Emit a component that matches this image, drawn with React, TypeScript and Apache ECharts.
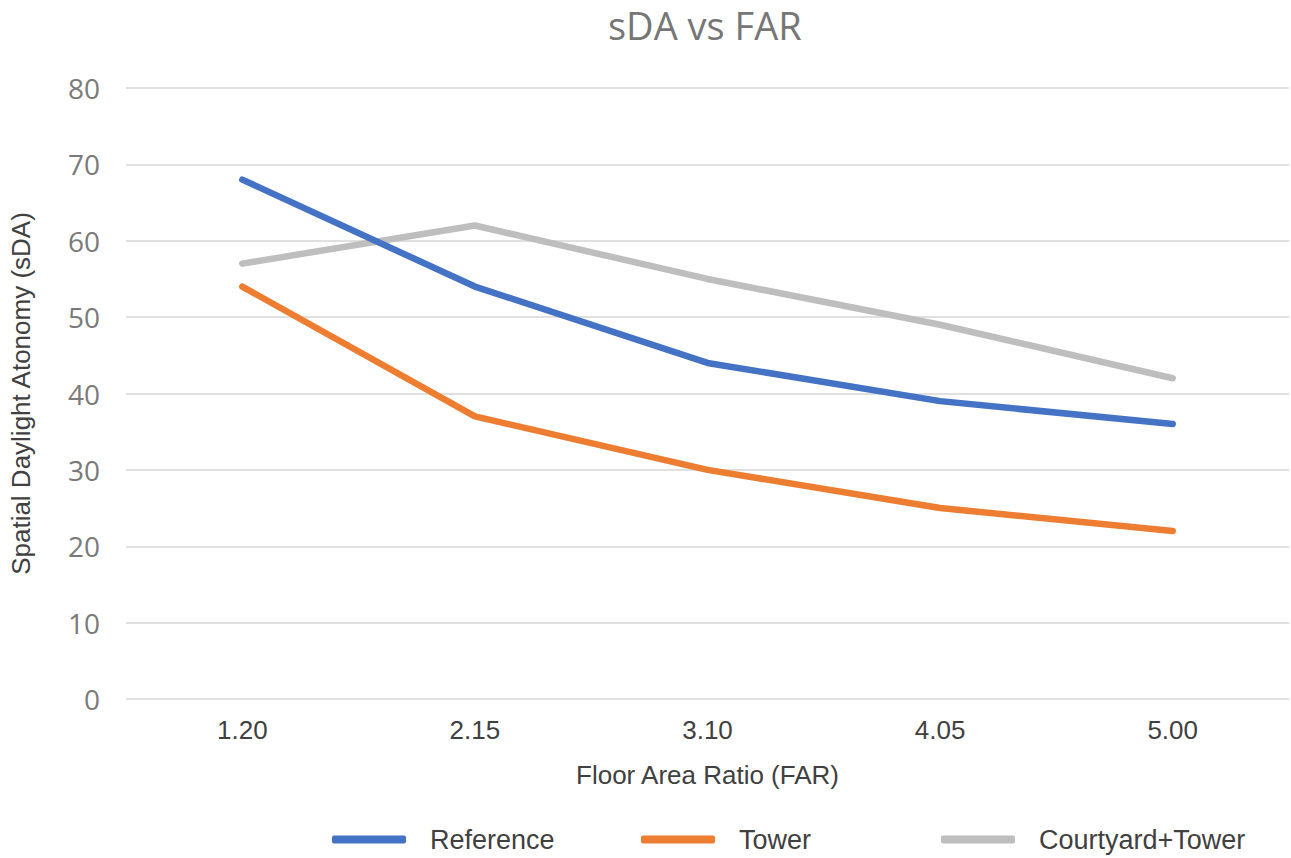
import React, { useEffect, useRef } from "react";
import * as echarts from "echarts";

const farLabels = ["1.20", "2.15", "3.10", "4.05", "5.00"];
const referenceValues = [68, 54, 44, 39, 36];
const towerValues = [54, 37, 30, 25, 22];
const courtyardTowerValues = [57, 62, 55, 49, 42];
const seriesNames = ["Reference", "Tower", "Courtyard+Tower"];
const seriesColors = ["#4472C4", "#ED7D31", "#BEBEBE"];

const ARIAL = "'Liberation Sans', Arial, sans-serif";

export default function App() {
  const ref = useRef<HTMLDivElement>(null);

  useEffect(() => {
    document.body.style.margin = "0";
    if (!ref.current) return;
    const chart = echarts.init(ref.current, null, { renderer: "svg" });
    const values = [referenceValues, towerValues, courtyardTowerValues];
    const legendLeft = [327, 636, 936];

    chart.setOption({
      animation: false,
      backgroundColor: "#ffffff",
      title: {
        text: "sDA vs FAR",
        left: 608,
        top: 6,
        padding: 0,
        textStyle: {
          fontFamily: "'Open Sans', sans-serif",
          fontSize: 38,
          fontWeight: "normal",
          color: "#767676",
        },
      },
      legend: seriesNames.map((name, i) => ({
        data: [name],
        left: legendLeft[i],
        top: 821,
        icon: "roundRect",
        itemWidth: 74,
        itemHeight: 8,
        textStyle: {
          fontFamily: ARIAL,
          fontSize: 27,
          color: "#404040",
          padding: [0, 0, 0, 19],
        },
      })),
      grid: { left: 126, right: 2, top: 88, bottom: 159 },
      xAxis: {
        type: "category",
        data: farLabels,
        boundaryGap: true,
        name: "Floor Area Ratio (FAR)",
        nameLocation: "middle",
        nameGap: 63,
        nameTextStyle: { fontFamily: ARIAL, fontSize: 26, color: "#404040" },
        axisLine: { show: false },
        axisTick: { show: false },
        axisLabel: { fontFamily: ARIAL, fontSize: 26, color: "#404040", margin: 18 },
      },
      yAxis: {
        type: "value",
        min: 0,
        max: 80,
        interval: 10,
        name: "Spatial Daylight Atonomy (sDA)",
        nameLocation: "middle",
        nameGap: 92,
        nameTextStyle: { fontFamily: ARIAL, fontSize: 26, color: "#404040" },
        axisLine: { show: false },
        axisTick: { show: false },
        axisLabel: {
          fontFamily: "'Open Sans', sans-serif",
          fontSize: 28,
          color: "#7a7a7a",
          margin: 26,
        },
        splitLine: { lineStyle: { color: "#e0e0e0", width: 2 } },
      },
      series: seriesNames.map((name, i) => ({
        name,
        type: "line",
        data: values[i],
        symbol: "none",
        color: seriesColors[i],
        lineStyle: { width: 6.5, color: seriesColors[i], cap: "round", join: "round" },
        z: 3 - i,
      })),
    });

    return () => chart.dispose();
  }, []);

  return <div ref={ref} style={{ width: 1291, height: 858 }} />;
}
